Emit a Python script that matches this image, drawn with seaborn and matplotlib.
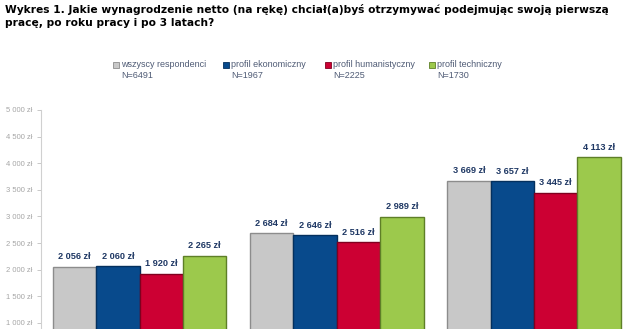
import matplotlib
matplotlib.use("Agg")
import matplotlib.pyplot as plt
import matplotlib.patches as mpatches
import seaborn as sns
import pandas as pd

# ---- data ----
categories = ["podejmując pierwszą pracę", "po roku pracy", "po 3 latach"]
series = ["wszyscy respondenci", "profil ekonomiczny", "profil humanistyczny", "profil techniczny"]
series_n = ["N=6491", "N=1967", "N=2225", "N=1730"]
wszyscy = [2056, 2684, 3669]
ekonomiczny = [2060, 2646, 3657]
humanistyczny = [1920, 2516, 3445]
techniczny = [2265, 2989, 4113]
y_ticks = [1000, 1500, 2000, 2500, 3000, 3500, 4000, 4500, 5000]

colors = ["#C8C8C8", "#084A8C", "#CC0033", "#9CC94C"]
edges = ["#8C8C8C", "#04305E", "#80001F", "#5E7F27"]

rows = []
for s, vals in zip(series, [wszyscy, ekonomiczny, humanistyczny, techniczny]):
    for c, v in zip(categories, vals):
        rows.append({"kategoria": c, "seria": s, "wartosc": v})
df = pd.DataFrame(rows)

sns.set_style("white")
plt.rcParams["font.family"] = ["DejaVu Sans"]

W, H = 624, 329
fig = plt.figure(figsize=(W / 100, H / 100), dpi=100)
ax = fig.add_axes([41 / W, (H - 376) / H, 591.5 / W, (376 - 110) / H])

sns.barplot(data=df, x="kategoria", y="wartosc", hue="seria", order=categories,
            hue_order=series, palette=colors, width=0.88, gap=0, saturation=1,
            legend=False, ax=ax)

for cont, ec in zip(ax.containers, edges):
    for bar in cont:
        bar.set_edgecolor(ec)
        bar.set_linewidth(1.0)
    ax.bar_label(cont, labels=[f"{int(v):,}".replace(",", " ") + " zł" for v in cont.datavalues],
                 padding=4, fontsize=6.6, fontweight="bold", color="#1F3864",
                 family="Liberation Sans")

ax.set_xlim(-0.5, 2.5)
ax.set_ylim(0, 5000)
ax.set_yticks(y_ticks)
ax.set_yticklabels([f"{v:,}".replace(",", " ") + " zł" for v in y_ticks],
                   fontsize=5.5, color="#A6A6A6", family="Liberation Sans")
ax.tick_params(axis="y", length=3, width=0.6, color="#BFBFBF", pad=3, left=True)
ax.tick_params(axis="x", bottom=False, labelbottom=False)
ax.set_xlabel("")
ax.set_ylabel("")
for sp in ["top", "right", "bottom"]:
    ax.spines[sp].set_visible(False)
ax.spines["left"].set_color("#D0D0D0")
ax.spines["left"].set_linewidth(0.8)

# legend (manual)
leg_x = [113, 223, 325, 429]
for x, s, n, c, ec in zip(leg_x, series, series_n, colors, edges):
    fig.patches.append(mpatches.Rectangle((x / W, (H - 67.5) / H), 6 / W, 6 / H,
                                          transform=fig.transFigure, facecolor=c,
                                          edgecolor=ec, linewidth=0.6))
    fig.text((x + 8) / W, (H - 64.5) / H, s, fontsize=6.5, color="#4F5B75",
             va="center", ha="left", family="Liberation Sans")
    fig.text((x + 8) / W, (H - 76) / H, n, fontsize=6.5, color="#4F5B75",
             va="center", ha="left", family="Liberation Sans")

fig.text(5 / W, (H - 4) / H,
         "Wykres 1. Jakie wynagrodzenie netto (na rękę) chciał(a)byś otrzymywać podejmując swoją pierwszą\n"
         "pracę, po roku pracy i po 3 latach?",
         fontsize=7.65, fontweight="bold", color="#000000", va="top", ha="left",
         linespacing=1.4)

fig.savefig("out.png", dpi=100)
